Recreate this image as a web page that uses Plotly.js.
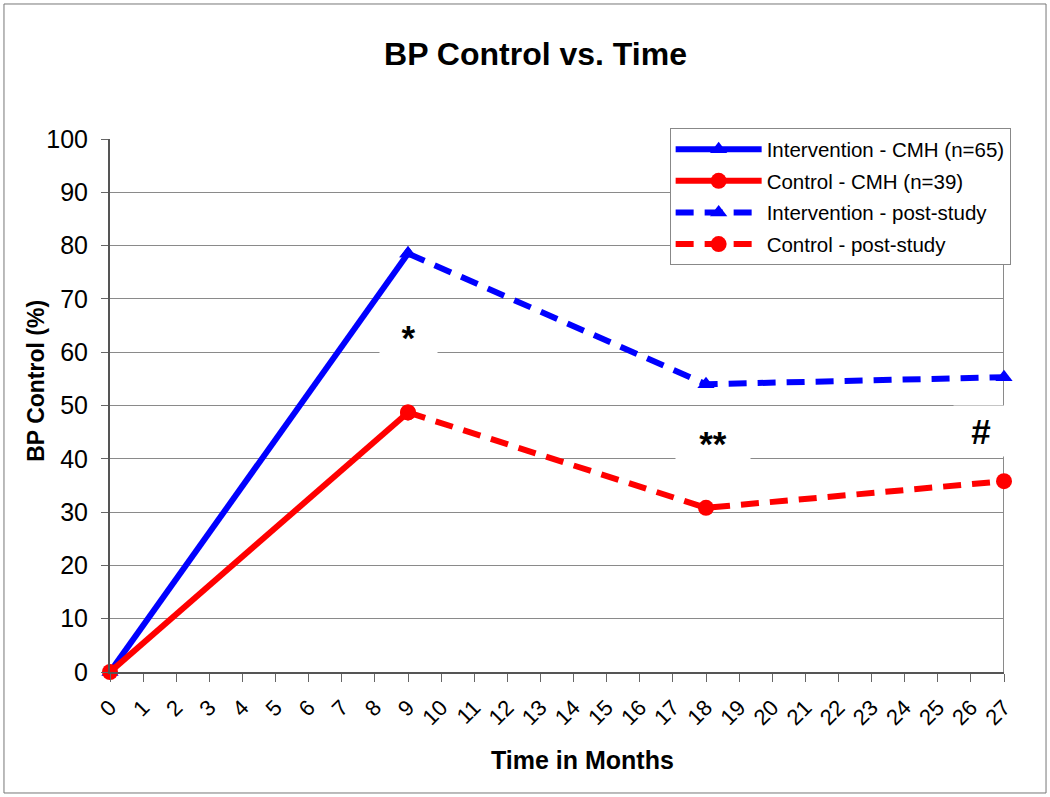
<!DOCTYPE html>
<html>
<head>
<meta charset="utf-8">
<script src="https://cdn.plot.ly/plotly-3.0.1.min.js"></script>
<style>
html,body{margin:0;padding:0;background:#fff;}
#chart{width:1050px;height:797px;}
</style>
</head>
<body>
<div id="chart"></div>
<script>
// ---- data ----
var monthTicks = [0,1,2,3,4,5,6,7,8,9,10,11,12,13,14,15,16,17,18,19,20,21,22,23,24,25,26,27];
var monthLabels = monthTicks.map(String);

var intvCmhX = [0, 9];
var intvCmhY = [0, 78.5];
var ctrlCmhX = [0, 9];
var ctrlCmhY = [0, 48.7];
var intvPostX = [9, 18, 27];
var intvPostY = [78.5, 54.0, 55.3];
var ctrlPostX = [9, 18, 27];
var ctrlPostY = [48.7, 30.8, 35.8];

var seriesNames = ["Intervention - CMH (n=65)", "Control - CMH (n=39)", "Intervention - post-study", "Control - post-study"];

var marks = [
  {text: "*", x: 9, y: 62.8, w: 55},
  {text: "**", x: 18.2, y: 43.0, w: 72},
  {text: "#", x: 26.3, y: 45.2, w: 52}
];

var titleText = "BP Control vs. Time";
var xTitleText = "Time in Months";
var yTitleText = "BP Control (%)";

// ---- chart ----
var BLUE = "#0000FF", RED = "#FF0000";
var FONT = "Liberation Sans, Arial, sans-serif";

var traces = [
  {x: intvCmhX, y: intvCmhY, name: seriesNames[0], legendgroup: "a", mode: "lines+markers",
   line: {color: BLUE, width: 6}, marker: {symbol: "triangle-up", size: 15, color: BLUE}, cliponaxis: false},
  {x: ctrlCmhX, y: ctrlCmhY, name: seriesNames[1], legendgroup: "b", mode: "lines+markers",
   line: {color: RED, width: 6}, marker: {symbol: "circle", size: 16, color: RED}, cliponaxis: false},
  {x: intvPostX, y: intvPostY, name: seriesNames[2], legendgroup: "c", mode: "lines+markers",
   line: {color: BLUE, width: 6, dash: "18px,11px"}, marker: {symbol: "triangle-up", size: 15, color: BLUE}, cliponaxis: false},
  {x: ctrlPostX, y: ctrlPostY, name: seriesNames[3], legendgroup: "d", mode: "lines+markers",
   line: {color: RED, width: 6, dash: "18px,11px"}, marker: {symbol: "circle", size: 16, color: RED}, cliponaxis: false}
];

var annotations = marks.map(function(m){
  return {x: m.x, y: m.y, xref: "x", yref: "y", text: "<b>" + m.text + "</b>",
    showarrow: false, font: {family: FONT, size: 35, color: "#000"},
    bgcolor: "#ffffff", width: m.w, height: 48, valign: "middle"};
});
annotations.push({text: "<b>" + xTitleText + "</b>", xref: "paper", yref: "paper",
  x: 0.528, y: -0.165, xanchor: "center", yanchor: "middle", showarrow: false,
  font: {family: FONT, size: 25, color: "#000"}});
annotations.push({text: "<b>" + yTitleText + "</b>", xref: "paper", yref: "paper",
  x: -0.083, y: 0.546, xanchor: "center", yanchor: "middle", textangle: -90, showarrow: false,
  font: {family: FONT, size: 23, color: "#000"}});

var layout = {
  width: 1050, height: 797,
  paper_bgcolor: "#fff", plot_bgcolor: "#fff",
  margin: {l: 110, r: 46, t: 139, b: 125},
  font: {family: FONT, color: "#000"},
  title: {text: "<b>" + titleText + "</b>", font: {family: FONT, size: 32, color: "#000"},
    xref: "container", x: 0.51, xanchor: "center", yref: "container", y: 0.933, yanchor: "middle"},
  xaxis: {
    range: [0, 27], tickmode: "array", tickvals: monthTicks, ticktext: monthLabels,
    tickangle: -45, tickfont: {family: FONT, size: 22, color: "#000"},
    ticks: "outside", ticklen: 8, tickcolor: "#666", showgrid: false, zeroline: false,
    showline: true, linecolor: "#555", linewidth: 2, mirror: false, ticklabelstandoff: 4
  },
  yaxis: {
    range: [0, 100], dtick: 10, tickfont: {family: FONT, size: 25, color: "#000"},
    ticks: "outside", ticklen: 7, tickcolor: "#666", ticklabelstandoff: 8,
    showgrid: true, gridcolor: "#8a8a8a", gridwidth: 1, zeroline: false,
    showline: true, linecolor: "#555", linewidth: 2
  },
  legend: {
    x: 0.626, y: 1.02, xanchor: "left", yanchor: "top",
    bgcolor: "#fff", bordercolor: "#888", borderwidth: 1,
    font: {family: FONT, size: 20.5, color: "#000"}, itemwidth: 86,
    traceorder: "grouped", tracegroupgap: 2
  },
  showlegend: true,
  annotations: annotations,
  shapes: [
    {type: "line", xref: "x", yref: "y", x0: 27, x1: 27, y0: 0, y1: 100, line: {color: "#8a8a8a", width: 2}, layer: "below"},
    {type: "rect", xref: "paper", yref: "paper", x0: -0.1186, x1: 1.047, y0: -0.227, y1: 1.2533,
     line: {color: "#777", width: 1}, fillcolor: "rgba(0,0,0,0)"}
  ]
};

Plotly.newPlot("chart", traces, layout, {displayModeBar: false, staticPlot: true});
</script>
</body>
</html>
